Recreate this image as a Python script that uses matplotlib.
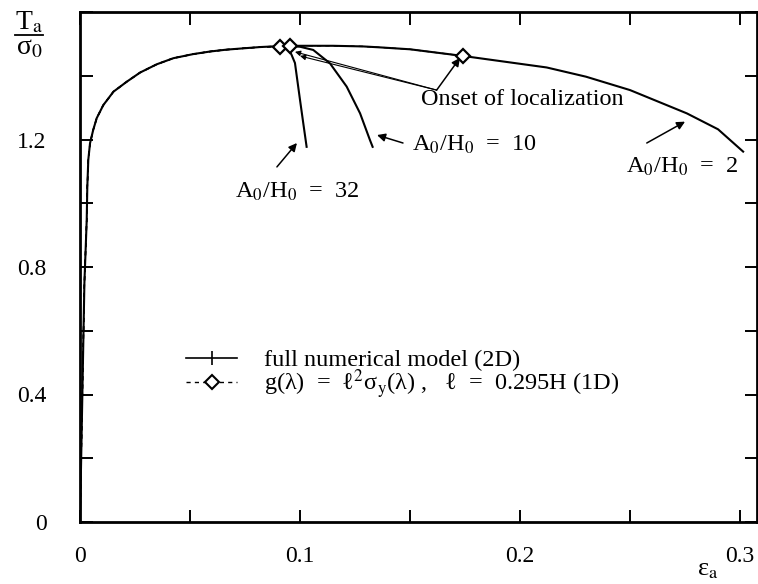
import matplotlib
matplotlib.use('Agg')
import matplotlib.pyplot as plt
from matplotlib.ticker import MultipleLocator, FuncFormatter
from matplotlib.lines import Line2D

plt.rcParams['font.family'] = ['Liberation Serif', 'DejaVu Serif']
plt.rcParams['mathtext.fontset'] = 'stix'

# full numerical model (2D), A0/H0 = 2 (the long curve)
eps_2 = [0, 0.0012, 0.002, 0.00305, 0.00332, 0.00377, 0.00455, 0.006, 0.0076, 0.0106,
         0.0152, 0.0212, 0.0273, 0.0349, 0.0424, 0.0515, 0.0591, 0.0667, 0.0818, 0.0909,
         0.1, 0.115, 0.1286, 0.1364, 0.15, 0.1742, 0.19, 0.2121, 0.23, 0.25,
         0.2758, 0.29, 0.3014]
T_2 = [0, 0.45, 0.75, 0.947, 1.051, 1.136, 1.188, 1.23, 1.267, 1.308,
       1.35, 1.381, 1.41, 1.436, 1.455, 1.468, 1.476, 1.482, 1.49, 1.493,
       1.494, 1.494, 1.492, 1.489, 1.483, 1.462, 1.447, 1.426, 1.397, 1.355,
       1.282, 1.232, 1.162]

# branches after localization
eps_10 = [0.0955, 0.1, 0.106, 0.1136, 0.1212, 0.1273, 0.1318, 0.133]
T_10 = [1.493, 1.491, 1.481, 1.439, 1.366, 1.282, 1.198, 1.177]
eps_32 = [0.0925, 0.095, 0.0962, 0.0977, 0.1, 0.1015, 0.103]
T_32 = [1.492, 1.482, 1.465, 1.44, 1.324, 1.25, 1.177]

# 1D model: onset of localization (diamonds) for A0/H0 = 32, 10, 2
onset_eps = [0.0909, 0.0955, 0.1742]
onset_T = [1.491, 1.493, 1.462]

x_ticks = [0, 0.1, 0.2, 0.3]
y_ticks = [0, 0.4, 0.8, 1.2]

fig = plt.figure(figsize=(7.58, 5.84), dpi=100)
ax = fig.add_axes([80/758, 62/584, 677/758, 510/584])

ax.plot(eps_2, T_2, color='k', lw=1.5)
ax.plot(eps_10, T_10, color='k', lw=1.5)
ax.plot(eps_32, T_32, color='k', lw=1.5)

# 1D curves follow the 2D one up to the onset point
for e0, t0 in zip(onset_eps, onset_T):
    xs = [e for e in eps_2 if e < e0] + [e0]
    ys = [t for e, t in zip(eps_2, T_2) if e < e0] + [t0]
    ax.plot(xs, ys, color='k', lw=1.0, ls=(0, (3, 3)))
ax.plot(onset_eps, onset_T, ls='none', marker='D', ms=7.5, mfc='white', mec='k', mew=1.6)

ax.set_xlim(0, 0.3077)
ax.set_ylim(0, 1.6)
ax.xaxis.set_minor_locator(MultipleLocator(0.05))
ax.yaxis.set_minor_locator(MultipleLocator(0.2))
ax.set_xticks(x_ticks)
ax.set_yticks(y_ticks)
fmt = FuncFormatter(lambda v, p: '0' if abs(v) < 1e-9 else '%.1f' % v)
ax.xaxis.set_major_formatter(fmt)
ax.yaxis.set_major_formatter(fmt)
ax.tick_params(which='both', direction='in', length=9, width=1.4, top=True, right=True, labelsize=17)
ax.tick_params(axis='x', pad=17)
ax.tick_params(axis='y', pad=24)
for s in ax.spines.values():
    s.set_linewidth(2)

arrow = dict(arrowstyle='-|>', color='k', lw=1.1, mutation_scale=12, shrinkA=0, shrinkB=0)
fs = 17.5

ax.annotate('', xy=(0.0986, 1.189), xytext=(0.0895, 1.114), arrowprops=arrow)
ax.text(0.0986, 1.035, 'A$_0$/H$_0$  =  32', fontsize=fs, ha='center', va='center')

ax.annotate('', xy=(0.135, 1.214), xytext=(0.1468, 1.189), arrowprops=arrow)
ax.text(0.1795, 1.183, 'A$_0$/H$_0$  =  10', fontsize=fs, ha='center', va='center')

ax.annotate('', xy=(0.275, 1.256), xytext=(0.2576, 1.189), arrowprops=arrow)
ax.text(0.2736, 1.114, 'A$_0$/H$_0$  =  2', fontsize=fs, ha='center', va='center')

vertex = (0.1621, 1.355)
ax.annotate('', xy=(0.1727, 1.456), xytext=vertex, arrowprops=arrow)
ax.annotate('', xy=(0.0977, 1.475), xytext=vertex, arrowprops=dict(arrow, lw=0.8, mutation_scale=8))
ax.annotate('', xy=(0.1, 1.462), xytext=vertex, arrowprops=dict(arrow, lw=0.8, mutation_scale=8))
ax.text(0.2009, 1.325, 'Onset of localization', fontsize=fs, ha='center', va='center')

handles = [Line2D([], [], color='k', lw=1.2, marker='|', ms=10, mew=1.2),
           Line2D([], [], color='k', lw=1.0, ls=(0, (3, 3)), marker='D', ms=7, mfc='white', mew=1.5)]
labels = ['full numerical model (2D)',
          'g(λ)  =  ℓ$^2$σ$_{\\rm y}$(λ) ,   ℓ  =  0.295H (1D)']
fig.legend(handles, labels, loc='center left', bbox_to_anchor=(186/758, 1 - 375/584),
           frameon=False, fontsize=fs, handlelength=2.1, handletextpad=1.1,
           labelspacing=-0.18, borderpad=0, borderaxespad=0)

# y label as a stacked fraction T_a / sigma_0
fig.text(29/758, 1 - 23/584, 'T$_{\\rm a}$', fontsize=20, ha='center', va='center')
fig.add_artist(Line2D([15/758, 43/758], [1 - 35/584, 1 - 35/584], color='k', lw=1.3))
fig.text(29/758, 1 - 48/584, 'σ$_0$', fontsize=20, ha='center', va='center')

fig.text(708/758, 1 - 570/584, 'ε$_{\\rm a}$', fontsize=19, ha='center', va='center')

fig.savefig('out.png', dpi=100)
